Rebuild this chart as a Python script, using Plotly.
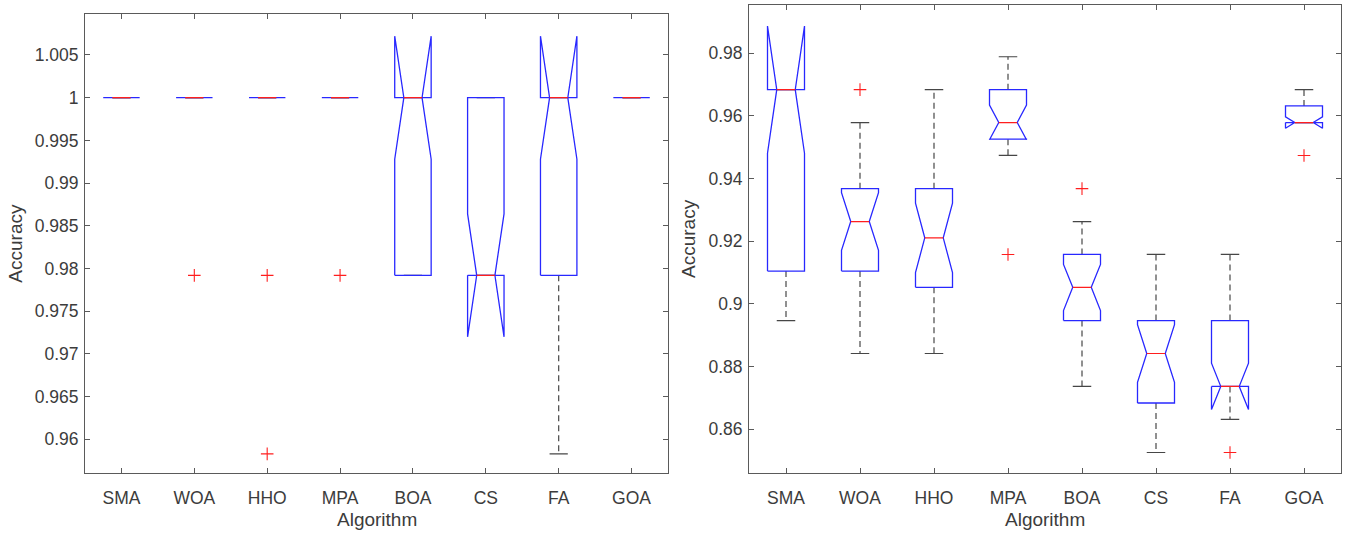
import plotly.graph_objects as go

# ---- data -----------------------------------------------------------------
categories = ["SMA", "WOA", "HHO", "MPA", "BOA", "CS", "FA", "GOA"]

# left panel
left_q1 = [1.0, 1.0, 1.0, 1.0, 0.9792, 0.9792, 0.9792, 1.0]
left_median = [1.0, 1.0, 1.0, 1.0, 1.0, 0.9792, 1.0, 1.0]
left_q3 = [1.0, 1.0, 1.0, 1.0, 1.0, 1.0, 1.0, 1.0]
left_whisker_lo = [1.0, 1.0, 1.0, 1.0, 0.9792, 0.9792, 0.9583, 1.0]
left_whisker_hi = [1.0, 1.0, 1.0, 1.0, 1.0, 1.0, 1.0, 1.0]
left_notch_lo = [1.0, 1.0, 1.0, 1.0, 0.9928, 0.9720, 0.9928, 1.0]
left_notch_hi = [1.0, 1.0, 1.0, 1.0, 1.0072, 0.9864, 1.0072, 1.0]
left_outliers = [[], [0.9792], [0.9792, 0.9583], [0.9792], [], [], [], []]
left_yticks = [0.96, 0.965, 0.97, 0.975, 0.98, 0.985, 0.99, 0.995, 1.0, 1.005]
left_yticklabels = ["0.96", "0.965", "0.97", "0.975", "0.98", "0.985",
                    "0.99", "0.995", "1", "1.005"]

# right panel
right_q1 = [0.9105, 0.9105, 0.9053, 0.9526, 0.8947, 0.8684, 0.8737, 0.9579]
right_median = [0.9684, 0.9263, 0.9211, 0.9579, 0.9053, 0.8842, 0.8737, 0.9579]
right_q3 = [0.9684, 0.9368, 0.9368, 0.9684, 0.9158, 0.8947, 0.8947, 0.9632]
right_whisker_lo = [0.8947, 0.8842, 0.8842, 0.9474, 0.8737, 0.8526, 0.8632, 0.9579]
right_whisker_hi = [0.9684, 0.9579, 0.9684, 0.9789, 0.9263, 0.9158, 0.9158, 0.9684]
right_notch_lo = [0.9481, 0.9171, 0.9100, 0.9524, 0.8979, 0.8750, 0.8663, 0.9561]
right_notch_hi = [0.9887, 0.9355, 0.9322, 0.9635, 0.9126, 0.8934, 0.8811, 0.9597]
right_outliers = [[], [0.9684], [], [0.9158], [0.9368], [], [0.8526], [0.9474]]
right_yticks = [0.86, 0.88, 0.90, 0.92, 0.94, 0.96, 0.98]
right_yticklabels = ["0.86", "0.88", "0.9", "0.92", "0.94", "0.96", "0.98"]

# ---- styling ----------------------------------------------------------------
BOX_HALF = 0.25          # half the box width, in category units
BLUE = "rgb(40,40,255)"
RED = "rgb(255,30,30)"
WHISKER = "rgb(70,70,70)"
AXIS = "rgb(90,90,90)"
TEXT = "rgb(60,60,60)"
FONT = "Liberation Sans, Arial, Helvetica, sans-serif"

fig = go.Figure()


def add_panel(xaxis, yaxis, q1, med, q3, wlo, whi, nlo, nhi, outliers):
    xs_w, ys_w = [], []      # dashed whiskers
    xs_c, ys_c = [], []      # whisker caps
    xs_b, ys_b = [], []      # notched box outlines
    xs_m, ys_m = [], []      # medians
    xs_o, ys_o = [], []      # outliers
    for i in range(len(categories)):
        x = i + 1
        h, q = BOX_HALF, BOX_HALF / 2
        if whi[i] > q3[i]:
            xs_w += [x, x, None]
            ys_w += [q3[i], whi[i], None]
        if wlo[i] < q1[i]:
            xs_w += [x, x, None]
            ys_w += [q1[i], wlo[i], None]
        xs_c += [x - q, x + q, None, x - q, x + q, None]
        ys_c += [whi[i], whi[i], None, wlo[i], wlo[i], None]
        xs_b += [x - h, x - h, x - q, x - h, x - h, x + h, x + h, x + q,
                 x + h, x + h, x - h, None]
        ys_b += [q1[i], nlo[i], med[i], nhi[i], q3[i], q3[i], nhi[i], med[i],
                 nlo[i], q1[i], q1[i], None]
        xs_m += [x - q, x + q, None]
        ys_m += [med[i], med[i], None]
        for v in outliers[i]:
            xs_o.append(x)
            ys_o.append(v)

    common = dict(xaxis=xaxis, yaxis=yaxis, mode="lines", showlegend=False,
                  hoverinfo="skip")
    fig.add_trace(go.Scatter(x=xs_w, y=ys_w,
                             line=dict(color=WHISKER, width=1.2, dash="6px,4px"),
                             **common))
    fig.add_trace(go.Scatter(x=xs_c, y=ys_c,
                             line=dict(color=WHISKER, width=1.2), **common))
    fig.add_trace(go.Scatter(x=xs_b, y=ys_b,
                             line=dict(color=BLUE, width=1.3), **common))
    fig.add_trace(go.Scatter(x=xs_m, y=ys_m,
                             line=dict(color=RED, width=1.2), **common))
    fig.add_trace(go.Scatter(x=xs_o, y=ys_o, xaxis=xaxis, yaxis=yaxis,
                             mode="markers", showlegend=False,
                             marker=dict(symbol="cross-thin", size=9,
                                         line=dict(color=RED, width=1.1))))


add_panel("x", "y", left_q1, left_median, left_q3, left_whisker_lo,
          left_whisker_hi, left_notch_lo, left_notch_hi, left_outliers)
add_panel("x2", "y2", right_q1, right_median, right_q3, right_whisker_lo,
          right_whisker_hi, right_notch_lo, right_notch_hi, right_outliers)

W, H = 1349, 534


def xdom(a, b):
    return [a / W, b / W]


def ydom(top, bottom):
    return [(H - bottom) / H, (H - top) / H]


axis_common = dict(showline=True, linecolor=AXIS, linewidth=1, mirror="ticks",
                   ticks="inside", ticklen=5, tickcolor=AXIS, showgrid=False,
                   zeroline=False, tickfont=dict(family=FONT, size=17.5, color=TEXT))

fig.update_layout(
    width=W, height=H,
    margin=dict(l=0, r=0, t=0, b=0),
    paper_bgcolor="white", plot_bgcolor="white",
    xaxis=dict(domain=xdom(85, 668), range=[0.5, 8.5], anchor="y",
               tickvals=list(range(1, 9)), ticktext=categories,
               ticklabelstandoff=9, **axis_common),
    yaxis=dict(domain=ydom(14, 473.3), range=[0.95602, 1.0098], anchor="x",
               tickvals=left_yticks, ticktext=left_yticklabels,
               ticklabelstandoff=2, **axis_common),
    xaxis2=dict(domain=xdom(749, 1341), range=[0.5, 8.5], anchor="y2",
                tickvals=list(range(1, 9)), ticktext=categories,
                ticklabelstandoff=9, **axis_common),
    yaxis2=dict(domain=ydom(4.7, 473.3), range=[0.84596, 0.99551], anchor="x2",
                tickvals=right_yticks, ticktext=right_yticklabels,
                ticklabelstandoff=2, **axis_common),
)

title_font = dict(family=FONT, size=19, color=TEXT)
for xc, label in [((85 + 668) / 2, "Algorithm"), ((749 + 1341) / 2, "Algorithm")]:
    fig.add_annotation(x=xc / W, y=(H - 519) / H, xref="paper", yref="paper",
                       text=label, showarrow=False, font=title_font,
                       xanchor="center", yanchor="middle")
for xc, yc in [(16, (14 + 473.3) / 2), (688, (4.7 + 473.3) / 2)]:
    fig.add_annotation(x=xc / W, y=(H - yc) / H, xref="paper", yref="paper",
                       text="Accuracy", showarrow=False, font=title_font,
                       textangle=-90, xanchor="center", yanchor="middle")

fig.write_html("out.html")
